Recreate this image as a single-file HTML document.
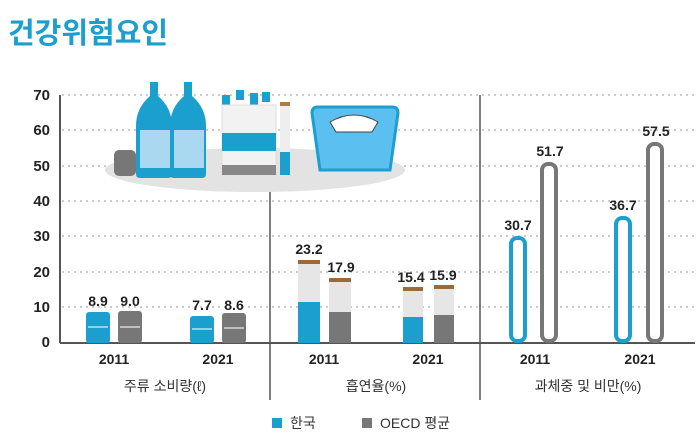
<!DOCTYPE html>
<html><head><meta charset="utf-8"><style>
body{margin:0;background:#fff;width:700px;height:440px;overflow:hidden}
svg{display:block}
text{font-family:"Liberation Sans","Noto Sans CJK KR",sans-serif}
</style></head><body>
<svg width="700" height="440" viewBox="0 0 700 440">
<text x="8" y="43" font-size="29" font-weight="bold" fill="#1b9fcf" font-family="Liberation Sans,Noto Sans CJK KR,sans-serif">건강위험요인</text>
<g stroke="#bbb" stroke-width="1.5" stroke-dasharray="2,4">
<line x1="62" y1="95" x2="695" y2="95"/><line x1="62" y1="130" x2="695" y2="130"/>
<line x1="62" y1="166" x2="695" y2="166"/><line x1="62" y1="201" x2="695" y2="201"/>
<line x1="62" y1="236" x2="695" y2="236"/><line x1="62" y1="272" x2="695" y2="272"/>
<line x1="62" y1="307" x2="695" y2="307"/>
</g>
<g font-size="15" font-weight="bold" fill="#222" text-anchor="end">
<text x="50" y="100">70</text><text x="50" y="135">60</text><text x="50" y="171">50</text>
<text x="50" y="206">40</text><text x="50" y="241">30</text><text x="50" y="277">20</text>
<text x="50" y="312">10</text><text x="50" y="347">0</text></g>
<line x1="60" y1="95" x2="60" y2="343" stroke="#555" stroke-width="2"/>
<line x1="60" y1="343" x2="695" y2="343" stroke="#555" stroke-width="2"/>
<line x1="270" y1="178" x2="270" y2="400" stroke="#555" stroke-width="1.5"/>
<line x1="480" y1="95" x2="480" y2="400" stroke="#555" stroke-width="1.5"/>
<ellipse cx="255" cy="170" rx="150" ry="22" fill="#e3e3e3"/>
<rect x="114" y="150" width="22" height="26" rx="5" fill="#777"/>
<path d="M150 82h8v14q14 12 14 30v48q0 4-4 4h-28q-4 0-4-4v-48q0-18 14-30z" fill="#1b9fcf"/>
<rect x="140" y="130" width="30" height="38" fill="#a9d8f0"/>
<path d="M184 82h8v14q14 12 14 30v48q0 4-4 4h-28q-4 0-4-4v-48q0-18 14-30z" fill="#1b9fcf"/>
<rect x="174" y="130" width="30" height="38" fill="#a9d8f0"/>
<rect x="222" y="95" width="8" height="10" fill="#1b9fcf"/><rect x="236" y="90" width="8" height="10" fill="#1b9fcf"/><rect x="250" y="93" width="8" height="12" fill="#1b9fcf"/><rect x="262" y="92" width="8" height="10" fill="#1b9fcf"/>
<rect x="222" y="105" width="54" height="70" fill="#f2f2f2" stroke="#ddd"/>
<rect x="222" y="133" width="54" height="18" fill="#1b9fcf"/>
<rect x="222" y="165" width="54" height="10" fill="#888"/>
<rect x="280" y="102" width="10" height="73" fill="#eee"/><rect x="280" y="152" width="10" height="23" fill="#1b9fcf"/><rect x="280" y="102" width="10" height="4" fill="#b07a40"/>
<path d="M312 113q0-6 6-6h74q6 0 6 6l-8 57h-70z" fill="#5bc0ef" stroke="#1b9fcf" stroke-width="3"/>
<path d="M330 122q24-14 48 0l-6 10h-36z" fill="#fff" stroke="#444"/>
<rect x="86" y="312" width="24" height="31" rx="3" fill="#1b9fcf"/><rect x="118" y="311" width="24" height="32" rx="3" fill="#777"/>
<rect x="190" y="316" width="24" height="27" rx="3" fill="#1b9fcf"/><rect x="222" y="313" width="24" height="30" rx="3" fill="#777"/>
<g stroke="#fff" stroke-width="1.5" opacity=".7"><line x1="88" y1="327" x2="108" y2="327"/><line x1="120" y1="327" x2="140" y2="327"/><line x1="192" y1="329" x2="212" y2="329"/><line x1="224" y1="328" x2="244" y2="328"/></g>
<rect x="298" y="263" width="22" height="80" fill="#e6e6e6"/><rect x="298" y="302" width="22" height="41" fill="#1b9fcf"/><rect x="298" y="260" width="22" height="4" fill="#9a6a3a"/>
<rect x="329" y="281" width="22" height="62" fill="#e6e6e6"/><rect x="329" y="312" width="22" height="31" fill="#777"/><rect x="329" y="278" width="22" height="4" fill="#9a6a3a"/>
<rect x="403" y="290" width="20" height="53" fill="#e6e6e6"/><rect x="403" y="317" width="20" height="26" fill="#1b9fcf"/><rect x="403" y="287" width="20" height="4" fill="#9a6a3a"/>
<rect x="434" y="288" width="20" height="55" fill="#e6e6e6"/><rect x="434" y="315" width="20" height="28" fill="#777"/><rect x="434" y="285" width="20" height="4" fill="#9a6a3a"/>
<g fill="#fff" stroke-width="4">
<rect x="511" y="238" width="14" height="103" rx="6" stroke="#1b9fcf"/>
<rect x="542" y="164" width="14" height="177" rx="6" stroke="#777"/>
<rect x="616" y="218" width="14" height="123" rx="6" stroke="#1b9fcf"/>
<rect x="648" y="144" width="14" height="197" rx="6" stroke="#777"/>
</g>
<g font-size="14" font-weight="bold" fill="#222" text-anchor="middle">
<text x="98" y="306">8.9</text><text x="130" y="306">9.0</text>
<text x="202" y="310">7.7</text><text x="234" y="310">8.6</text>
<text x="309" y="254">23.2</text><text x="341" y="272">17.9</text>
<text x="411" y="282">15.4</text><text x="443" y="280">15.9</text>
<text x="518" y="230">30.7</text><text x="550" y="156">51.7</text>
<text x="623" y="210">36.7</text><text x="656" y="136">57.5</text>
<text x="114" y="364">2011</text><text x="218" y="364">2021</text>
<text x="324" y="364">2011</text><text x="428" y="364">2021</text>
<text x="535" y="364">2011</text><text x="640" y="364">2021</text>
</g>
<g font-size="14" fill="#333" text-anchor="middle">
<text x="165" y="391">주류 소비량(ℓ)</text><text x="376" y="391">흡연율(%)</text><text x="588" y="391">과체중 및 비만(%)</text>
</g>
<rect x="272" y="418" width="10" height="10" fill="#1b9fcf"/><text x="290" y="428" font-size="14" fill="#333">한국</text>
<rect x="362" y="418" width="10" height="10" fill="#777"/><text x="380" y="428" font-size="14" fill="#333">OECD 평균</text>
</svg>
</body></html>
